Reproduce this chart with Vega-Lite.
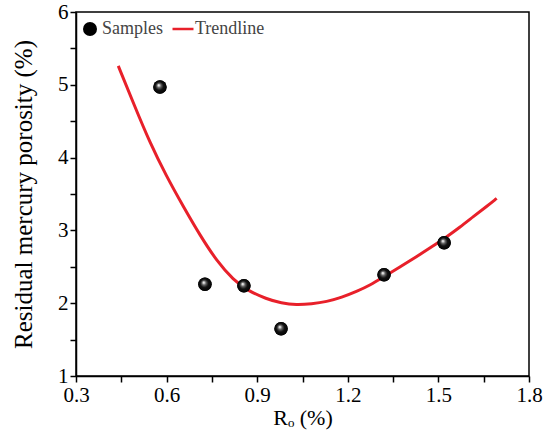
{
  "$schema": "https://vega.github.io/schema/vega-lite/v6.json",
  "width": 453,
  "height": 364,
  "autosize": {"type": "none"},
  "padding": {"left": 76, "top": 12, "right": 19, "bottom": 56},
  "background": "white",
  "config": {
    "view": {"stroke": "black", "strokeWidth": 1.5},
    "axis": {
      "grid": false,
      "ticks": true,
      "zindex": 1,
      "domainColor": "black",
      "domainWidth": 1.5,
      "tickColor": "#000000",
      "tickOpacity": 1,
      "tickWidth": 1.5,
      "tickSize": 6,
      "labelFont": "Liberation Serif",
      "labelFontSize": 21,
      "labelColor": "black",
      "titleFont": "Liberation Serif",
      "titleFontSize": 22,
      "titleFontWeight": "normal",
      "titleColor": "black"
    },
    "legend": {
      "orient": "none",
      "legendX": 5,
      "legendY": 8,
      "direction": "horizontal",
      "padding": 0,
      "labelFont": "Liberation Serif",
      "labelFontSize": 18,
      "labelColor": "#444444",
      "columnPadding": 4,
      "labelOffset": 3
    }
  },
  "datasets": {
    "samples": [
      {"ro": 0.578, "porosity": 4.97},
      {"ro": 0.727, "porosity": 2.26},
      {"ro": 0.856, "porosity": 2.24},
      {"ro": 0.979, "porosity": 1.65},
      {"ro": 1.32, "porosity": 2.39},
      {"ro": 1.519, "porosity": 2.83}
    ],
    "trend": [
      {"ro": 0.44, "porosity": 5.26},
      {"ro": 0.49, "porosity": 4.75},
      {"ro": 0.545, "porosity": 4.2},
      {"ro": 0.6, "porosity": 3.74},
      {"ro": 0.655, "porosity": 3.33},
      {"ro": 0.711, "porosity": 2.93},
      {"ro": 0.766, "porosity": 2.58},
      {"ro": 0.821, "porosity": 2.32},
      {"ro": 0.87, "porosity": 2.17},
      {"ro": 0.93, "porosity": 2.06},
      {"ro": 0.98, "porosity": 2.0},
      {"ro": 1.03, "porosity": 1.975},
      {"ro": 1.08, "porosity": 1.99},
      {"ro": 1.13, "porosity": 2.02},
      {"ro": 1.18, "porosity": 2.08},
      {"ro": 1.229, "porosity": 2.16},
      {"ro": 1.275, "porosity": 2.25},
      {"ro": 1.318, "porosity": 2.36},
      {"ro": 1.37, "porosity": 2.49},
      {"ro": 1.428, "porosity": 2.64},
      {"ro": 1.48, "porosity": 2.78},
      {"ro": 1.527, "porosity": 2.91},
      {"ro": 1.57, "porosity": 3.04},
      {"ro": 1.616, "porosity": 3.19},
      {"ro": 1.66, "porosity": 3.33},
      {"ro": 1.693, "porosity": 3.44}
    ]
  },
  "encoding": {
    "x": {
      "field": "ro",
      "type": "quantitative",
      "scale": {"domain": [0.3, 1.8], "nice": false, "zero": false},
      "axis": {
        "title": "Rₒ (%)",
        "values": [0.3, 0.45, 0.6, 0.75, 0.9, 1.05, 1.2, 1.35, 1.5, 1.65, 1.8],
        "labelExpr": "round(datum.value*100) % 30 == 0 ? format(datum.value, '.1f') : ''",
        "labelPadding": 2,
        "titlePadding": 2,
        "labelFlush": false,
        "labelOverlap": false
      }
    },
    "y": {
      "field": "porosity",
      "type": "quantitative",
      "scale": {"domain": [1, 6], "nice": false, "zero": false},
      "axis": {
        "title": "Residual mercury porosity (%)",
        "titleFontSize": 25,
        "values": [1, 1.5, 2, 2.5, 3, 3.5, 4, 4.5, 5, 5.5, 6],
        "labelExpr": "datum.value % 1 == 0 ? format(datum.value, 'd') : ''",
        "labelPadding": 2,
        "titlePadding": 21,
        "labelFlush": false,
        "labelOverlap": false
      }
    }
  },
  "layer": [
    {
      "data": {"name": "trend"},
      "mark": {"type": "line", "strokeWidth": 3, "interpolate": "basis"},
      "encoding": {
        "color": {
          "datum": "Trendline",
          "scale": {"domain": ["Samples", "Trendline"], "range": ["black", "#e8202a"]},
          "legend": {
            "title": null,
            "symbolSize": 196,
            "encode": {
              "symbols": {
                "update": {
                  "shape": {"signal": "datum.value === 'Trendline' ? 'stroke' : 'circle'"},
                  "size": {"signal": "datum.value === 'Trendline' ? 441 : 196"},
                  "fill": {"value": {"gradient": "radial", "x1": 0.4, "y1": 0.36, "r1": 0, "x2": 0.5, "y2": 0.5, "r2": 0.55, "stops": [{"offset": 0, "color": "#ffffff"}, {"offset": 0.1, "color": "#dddddd"}, {"offset": 0.28, "color": "#666666"}, {"offset": 0.55, "color": "#111111"}, {"offset": 1, "color": "#000000"}]}},
                  "stroke": {"signal": "datum.value === 'Trendline' ? '#e8202a' : 'transparent'"},
                  "strokeWidth": {"signal": "datum.value === 'Trendline' ? 2.5 : 0"},
                  "opacity": {"value": 1}
                }
              }
            }
          }
        }
      }
    },
    {
      "data": {"name": "samples"},
      "mark": {"type": "point", "filled": true, "size": 180, "opacity": 1},
      "encoding": {
        "color": {"datum": "Samples"}
      }
    },
    {
      "data": {"name": "samples"},
      "mark": {
        "type": "point",
        "filled": true,
        "size": 180,
        "opacity": 1,
        "fill": {"gradient": "radial", "x1": 0.4, "y1": 0.36, "r1": 0, "x2": 0.5, "y2": 0.5, "r2": 0.55, "stops": [{"offset": 0, "color": "#ffffff"}, {"offset": 0.1, "color": "#dddddd"}, {"offset": 0.28, "color": "#666666"}, {"offset": 0.55, "color": "#111111"}, {"offset": 1, "color": "#000000"}]}
      },
      "encoding": {}
    }
  ]
}
